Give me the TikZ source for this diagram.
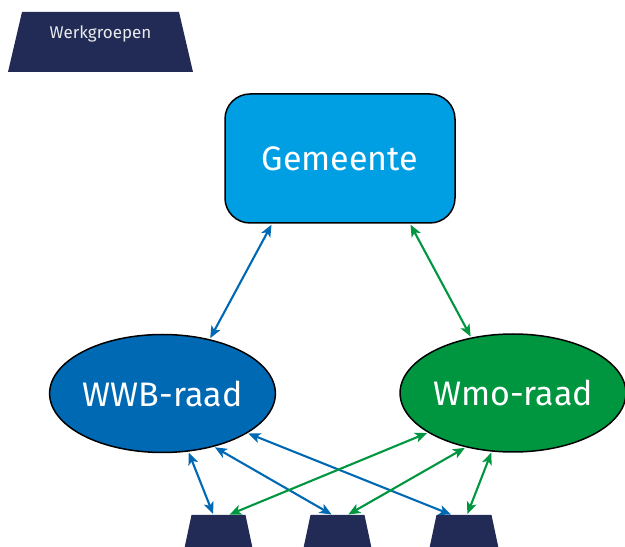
\documentclass[tikz,border=0pt]{standalone}
\usepackage{fontspec}
\setmainfont{Fira Sans}
\usetikzlibrary{arrows.meta,shapes.geometric}
\definecolor{navy}{HTML}{212B55}
\definecolor{gemblue}{HTML}{009FE3}
\definecolor{wwbblue}{HTML}{0069B4}
\definecolor{wmogreen}{HTML}{009640}
\tikzset{
  trapbox/.style={inner sep=0pt, outer sep=0pt},
  bigtext/.style={text=white, font=\fontsize{34}{36}\selectfont},
  blob/.style={ellipse, draw=black, line width=1.5pt, inner sep=0pt, minimum width=225pt, minimum height=118pt},
  link/.style={line width=2.1pt, {Stealth[length=12pt,width=10pt,inset=3pt]}-{Stealth[length=12pt,width=10pt,inset=3pt]}, shorten <=1pt, shorten >=1pt},
}
\newcommand{\trapfill}[2]{\fill[navy] (#1.south west) -- ([xshift=#2]#1.north west) -- ([xshift=-#2]#1.north east) -- (#1.south east) -- cycle;}
\begin{document}
\begin{tikzpicture}[x=1pt,y=1pt]
\path[use as bounding box] (0,0) rectangle (625,547);
\clip (0,0) rectangle (625,547);
\node[trapbox, minimum width=185pt, minimum height=60pt] (wg) at (100.5,505) {};
\trapfill{wg}{14pt}
\node[text=white!90!navy, font=\fontsize{17}{19}\selectfont] (wgt) at (100.5,513) {Werkgroepen};
\node[draw=black, line width=1.5pt, fill=gemblue, rounded corners=25pt, minimum width=230pt, minimum height=129pt, inner sep=0pt, bigtext] (gem) at (340,388.5) {Gemeente};
\node[blob, fill=wwbblue, bigtext] (wwb) at (162.5,153.5) {WWB-raad};
\node[blob, fill=wmogreen, bigtext] (wmo) at (513,154) {Wmo-raad};
\node[trapbox, minimum width=71pt, minimum height=40pt] (t1) at (218.5,12) {};
\node[trapbox, minimum width=71pt, minimum height=40pt] (t2) at (337.5,12) {};
\node[trapbox, minimum width=72pt, minimum height=40pt] (t3) at (464,12) {};
\trapfill{t1}{8.5pt}
\trapfill{t2}{8.5pt}
\trapfill{t3}{8.5pt}
\draw[link, wwbblue] ([xshift=-68pt]gem.south) -- (wwb.49);
\draw[link, wmogreen] ([xshift=70pt]gem.south) -- (wmo.127);
\draw[link, wwbblue] (wwb.-66) -- ([xshift=-5pt]t1.north);
\draw[link, wwbblue] (wwb.-46) -- ([xshift=-5pt]t2.north);
\draw[link, wwbblue] (wwb.-25) -- ([xshift=-12pt]t3.north);
\draw[link, wmogreen] (wmo.205) -- ([xshift=10pt]t1.north);
\draw[link, wmogreen] (wmo.229) -- ([xshift=10pt]t2.north);
\draw[link, wmogreen] (wmo.250) -- ([xshift=3pt]t3.north);
\end{tikzpicture}
\end{document}
